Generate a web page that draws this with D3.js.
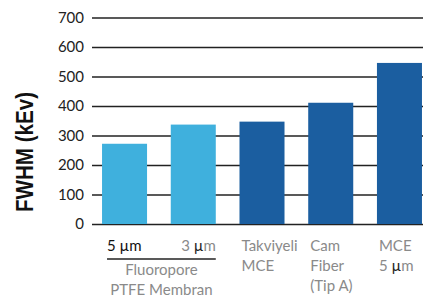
<!DOCTYPE html>
<html><head><meta charset="utf-8">
<script src="https://cdn.jsdelivr.net/npm/d3@7/dist/d3.min.js"></script>
<style>body{margin:0;background:#fff}svg{display:block}</style>
</head><body>
<svg id="c" width="423" height="300"></svg>
<script>
const categories = ["5 µm", "3 µm", "Takviyeli MCE", "Cam Fiber (Tip A)", "MCE 5 µm"];
const values = [272, 337, 347, 411, 546];
const groups = ["light", "light", "dark", "dark", "dark"];
const yTicks = [0, 100, 200, 300, 400, 500, 600, 700];
const yTitle = "FWHM (kEv)";
const groupLabel = ["Fluoropore", "PTFE Membran"];

const svg = d3.select("#c");
const y = d3.scaleLinear().domain([0, 700]).range([224, 17.5]);
const x = d3.scaleBand().domain(categories).range([92, 432]).paddingInner(0.345).paddingOuter(0.146);
const color = d3.scaleOrdinal().domain(["light", "dark"]).range(["#3fb0dd", "#1b5ea0"]);

// gridlines
const yAxis = d3.axisLeft(y).tickValues(yTicks).tickSize(-(423 - 92)).tickPadding(8);
const ga = svg.append("g").attr("transform", "translate(92,0)").call(yAxis);
ga.select(".domain").remove();
ga.selectAll(".tick line").attr("stroke", "#222").attr("stroke-width", 1.3);
ga.selectAll(".tick text").attr("font-family", "Lato, 'Open Sans', sans-serif").attr("font-size", 15).attr("fill", "#222");

// bars
svg.append("g").selectAll("rect").data(values).join("rect")
  .attr("x", (d, i) => x(categories[i]))
  .attr("width", x.bandwidth())
  .attr("y", d => y(d))
  .attr("height", d => y(0) - y(d))
  .attr("fill", (d, i) => color(groups[i]));

// y title
svg.append("text")
  .attr("transform", "translate(33,152) rotate(-90)")
  .attr("text-anchor", "middle")
  .attr("font-family", "'Liberation Sans Narrow', 'Arial Narrow', 'Liberation Sans', sans-serif")
  .attr("font-weight", "bold").attr("font-size", 24).attr("fill", "#111")
  .attr("textLength", 120).attr("lengthAdjust", "spacingAndGlyphs")
  .text(yTitle);

// category labels
const lab = svg.append("g").attr("font-family", "Lato, 'Open Sans', sans-serif").attr("font-size", 15).attr("fill", "#8a8a8a");
function addMu(t, str, muFill) {
  const parts = str.split("µ");
  parts.forEach((p, k) => {
    if (k > 0) t.append("tspan").attr("fill", muFill).text("µ");
    t.append("tspan").text(p);
  });
}
// 5 µm
const t0 = lab.append("text").attr("x", x(categories[0]) + 5).attr("y", 251).attr("fill", "#111");
addMu(t0, categories[0], "#111");
// 3 µm
const t1 = lab.append("text").attr("x", x(categories[1]) + x.bandwidth()).attr("y", 251).attr("text-anchor", "end");
addMu(t1, categories[1], "#222");
// underline
svg.append("line").attr("x1", x(categories[0]) + 5).attr("x2", x(categories[1]) + x.bandwidth())
  .attr("y1", 259).attr("y2", 259).attr("stroke", "#222").attr("stroke-width", 1.3);
// group label
groupLabel.forEach((g, i) => {
  lab.append("text").attr("x", (x(categories[0]) + 5 + x(categories[1]) + x.bandwidth()) / 2)
    .attr("y", 275 + i * 19.5).attr("text-anchor", "middle").text(g);
});
// other categories, wrapped
const wraps = [null, null, ["Takviyeli", "MCE"], ["Cam", "Fiber", "(Tip A)"], ["MCE", "5 µm"]];
wraps.forEach((lines, i) => {
  if (!lines) return;
  lines.forEach((ln, j) => {
    const t = lab.append("text").attr("x", x(categories[i]) + 2).attr("y", 251 + j * 20);
    addMu(t, ln, "#222");
  });
});
</script>
</body></html>
